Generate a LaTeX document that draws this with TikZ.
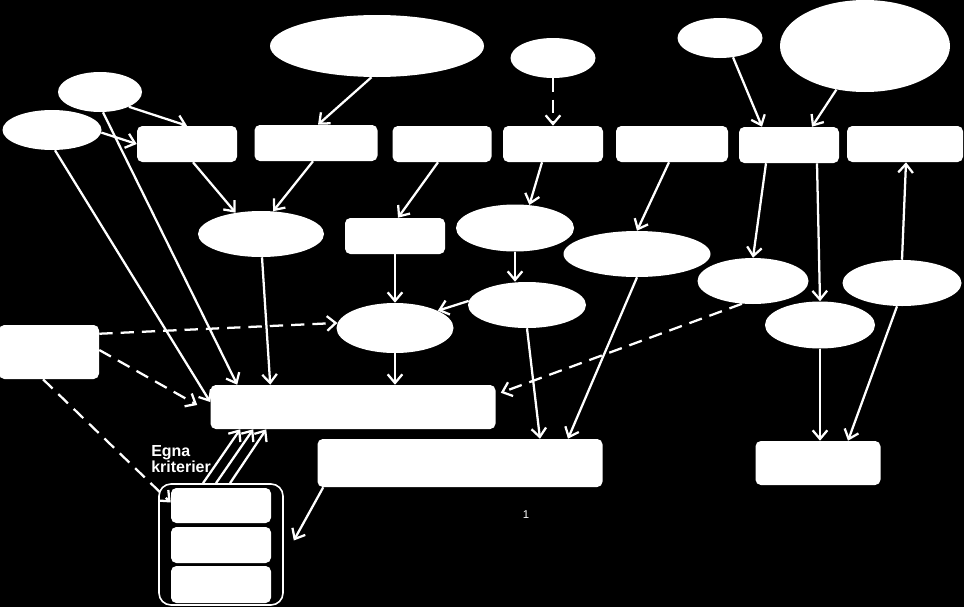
\documentclass[tikz,border=0pt]{standalone}
\usepackage{fontspec}
\setmainfont{Liberation Sans}
\usetikzlibrary{shapes.geometric,arrows.meta,calc}
\begin{document}
\begin{tikzpicture}[x=0.75pt,y=-0.75pt,
  ell/.style={ellipse,fill=white,draw=none,inner sep=0pt},
  box/.style={rectangle,rounded corners=4pt,fill=white,draw=none,inner sep=0pt},
  arr/.style={draw=white,line width=1.7pt,-{Straight Barb[length=6.5pt,width=11pt]}},
  darr/.style={arr,dash pattern=on 10pt off 6pt}]
\fill[black] (0,0) rectangle (964,607);
\useasboundingbox (0,0) rectangle (964,607);
% ellipses
\node[ell,minimum width=160.5pt,minimum height=46.5pt] (E1) at (377,46) {};
\node[ell,minimum width=63.75pt,minimum height=30pt] (E2) at (553,58) {};
\node[ell,minimum width=63.75pt,minimum height=30pt] (E3) at (720,38) {};
\node[ell,minimum width=127.5pt,minimum height=69pt] (E4) at (865,46) {};
\node[ell,minimum width=63pt,minimum height=30pt] (E5) at (100,92) {};
\node[ell,minimum width=74.25pt,minimum height=30pt] (E6) at (52,130) {};
\node[ell,minimum width=94.5pt,minimum height=34.5pt] (E7) at (261,234) {};
\node[ell,minimum width=88.5pt,minimum height=35.25pt] (E8) at (515,228) {};
\node[ell,minimum width=110.25pt,minimum height=34.5pt] (E9) at (637,254) {};
\node[ell,minimum width=88.5pt,minimum height=34.5pt] (E10) at (527,305) {};
\node[ell,minimum width=87.75pt,minimum height=37.5pt] (E11) at (395,328) {};
\node[ell,minimum width=83.25pt,minimum height=34.5pt] (E12) at (753,281) {};
\node[ell,minimum width=89.25pt,minimum height=34.5pt] (E13) at (902,283) {};
\node[ell,minimum width=82.5pt,minimum height=35.25pt] (E14) at (820,325) {};
% boxes
\node[box,minimum width=75pt,minimum height=27pt] (R1) at (187,144) {};
\node[box,minimum width=92.25pt,minimum height=27pt] (R2) at (316,143) {};
\node[box,minimum width=74.25pt,minimum height=27pt] (R3) at (442,144) {};
\node[box,minimum width=75pt,minimum height=27pt] (R4) at (553,144) {};
\node[box,minimum width=84pt,minimum height=27pt] (R5) at (672,144) {};
\node[box,minimum width=75pt,minimum height=27pt] (R6) at (789,145) {};
\node[box,minimum width=87pt,minimum height=27pt] (R7) at (905,144) {};
\node[box,minimum width=75pt,minimum height=27pt] (R8) at (395,236) {};
\node[box,minimum width=75pt,minimum height=40.5pt] (R9) at (49,352) {};
\node[box,minimum width=213.75pt,minimum height=33pt] (R10) at (353,407) {};
\node[box,minimum width=213.75pt,minimum height=36pt] (R11) at (460,463) {};
\node[box,minimum width=93.75pt,minimum height=33pt] (R12) at (818,463) {};
% group
\node[draw=white,line width=1.2pt,rounded corners=9pt,minimum width=93pt,minimum height=90.75pt,inner sep=0pt] (G) at (221,544.5) {};
\node[box,minimum width=75pt,minimum height=26.25pt] (G1) at (221,505.5) {};
\node[box,minimum width=75pt,minimum height=27pt] (G2) at (221,545) {};
\node[box,minimum width=75pt,minimum height=27.75pt] (G3) at (221,584.5) {};
% texts
\node[anchor=north west,align=left,text=white,inner sep=0pt,font=\bfseries\fontsize{12}{12}\selectfont] (T) at (151,445) {Egna\\kriterier};
\node[text=white,inner sep=0pt,font=\fontsize{8.5}{9}\selectfont] (N1) at (526,515) {1};
% arrows
\draw[arr] (E5.-27) -- (R1.north);
\draw[arr] (E6.-3) -- (R1.west);
\draw[arr] ($(E5.south)+(3,0)$) -- ($(R10.north west)+(27,0)$);
\draw[arr] ($(E6.south)+(3,0)$) -- ($(R10.west)+(0,-5)$);
\draw[arr] (E1.-100) -- ($(R2.north)+(2,0)$);
\draw[darr] (E2.south) -- (R4.north);
\draw[arr] (E3.-56) -- ($(R6.north)+(-27,0)$);
\draw[arr] (E4) -- ($(R6.north)+(23,0)$);
\draw[arr] ($(R1.south)+(6,0)$) -- (E7.140);
\draw[arr] ($(R2.south)+(-3,0)$) -- (E7.62);
\draw[arr] ($(R3.south)+(-4,0)$) -- ($(R8.north)+(3,0)$);
\draw[arr] ($(R4.south)+(-11,0)$) -- (E8.58);
\draw[arr] ($(R5.south)+(-3,0)$) -- (E9.north);
\draw[arr] ($(R6.south)+(-23,0)$) -- (E12.north);
\draw[arr] ($(R6.south)+(28,0)$) -- (E14.north);
\draw[arr] (E13.north) -- ($(R7.south)+(1,0)$);
\draw[arr] ($(E7.south)+(1,0)$) -- ($(R10.north west)+(60,0)$);
\draw[arr] (R8.south) -- (E11.north);
\draw[arr] (E10.176) -- (E11.22);
\draw[arr] (E8.south) -- (E8.south |- E10.north);
\draw[arr] (E11.south) -- (E11.south |- R10.north);
\draw[darr] ($(R9.north east)+(0,9)$) -- (E11.175);
\draw[darr] ($(R9.east)+(0,-2)$) -- ($(R10.west)+(-13,-2)$);
\draw[darr] ($(R9.south)+(-6,0)$) -- ($(G1.west)+(0,-3)$);
\draw[darr] (E12.-116) -- ($(R10.north east)+(5,8)$);
\draw[arr] (E10.south) -- ($(R11.north)+(80,0)$);
\draw[arr] (E9.south) -- ($(R11.north)+(108,0)$);
\draw[arr] (E14.south) -- (E14.south |- R12.north);
\draw[arr] ($(E13.south)+(-5,0)$) -- ($(R12.north)+(30,0)$);
\draw[arr] ($(R11.south west)+(6,0)$) -- ($(G.east)+(10,-4)$);
\draw[arr] ($(G.north)+(-18,0)$) -- ($(R10.south west)+(30,0)$);
\draw[arr] ($(G.north)+(-5,0)$) -- ($(R10.south west)+(43,0)$);
\draw[arr] ($(G.north)+(9,0)$) -- ($(R10.south west)+(56,0)$);
\end{tikzpicture}
\end{document}
